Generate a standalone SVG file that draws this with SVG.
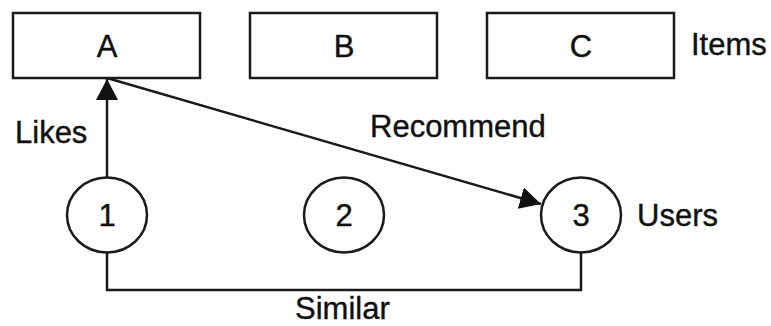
<svg xmlns="http://www.w3.org/2000/svg" width="771" height="326" viewBox="0 0 771 326">
  <style>
    .box { fill: #ffffff; stroke: #1a1a1a; stroke-width: 2.5; }
    .user { fill: #ffffff; stroke: #1a1a1a; stroke-width: 2.5; }
    .edge { fill: none; stroke: #1a1a1a; stroke-width: 2.5; }
    .lbl { font-family: "Liberation Sans", Arial, sans-serif; font-size: 31px; fill: #111111; stroke: #111111; stroke-width: 0.4; }
    .mid { text-anchor: middle; }
  </style>
  <defs>
    <marker id="arrow" markerUnits="userSpaceOnUse" markerWidth="24" markerHeight="24" refX="21" refY="11" orient="auto" viewBox="0 0 24 24">
      <path d="M0,0 L21,11 L0,22 Z" fill="#111111"/>
    </marker>
  </defs>

  <rect width="771" height="326" fill="#ffffff"/>

  <!-- connectors -->
  <g id="connectors">
    <line class="edge" x1="107" y1="177.5" x2="107" y2="79" marker-end="url(#arrow)"/>
    <line class="edge" x1="107" y1="78" x2="541" y2="204" marker-end="url(#arrow)"/>
    <path class="edge" d="M107,252.5 V290 H581 V252.5"/>
  </g>

  <!-- items -->
  <g id="item-a">
    <rect class="box" x="13" y="13" width="187" height="65"/>
    <text class="lbl mid" x="107" y="57">A</text>
  </g>
  <g id="item-b">
    <rect class="box" x="250" y="13" width="187" height="65"/>
    <text class="lbl mid" x="344" y="57">B</text>
  </g>
  <g id="item-c">
    <rect class="box" x="487" y="13" width="187" height="65"/>
    <text class="lbl mid" x="581" y="57">C</text>
  </g>

  <!-- users -->
  <g id="user-1">
    <ellipse class="user" cx="107" cy="215" rx="40" ry="37.5"/>
    <text class="lbl mid" x="107" y="226">1</text>
  </g>
  <g id="user-2">
    <ellipse class="user" cx="344" cy="215" rx="40" ry="37.5"/>
    <text class="lbl mid" x="344" y="226">2</text>
  </g>
  <g id="user-3">
    <ellipse class="user" cx="581" cy="215" rx="40" ry="37.5"/>
    <text class="lbl mid" x="581" y="226">3</text>
  </g>

  <!-- labels -->
  <g id="labels">
    <text class="lbl" x="691" y="55">Items</text>
    <text class="lbl" x="637" y="226">Users</text>
    <text class="lbl" x="15" y="143">Likes</text>
    <text class="lbl" x="370" y="137">Recommend</text>
    <text class="lbl" x="295" y="319">Similar</text>
  </g>
</svg>
